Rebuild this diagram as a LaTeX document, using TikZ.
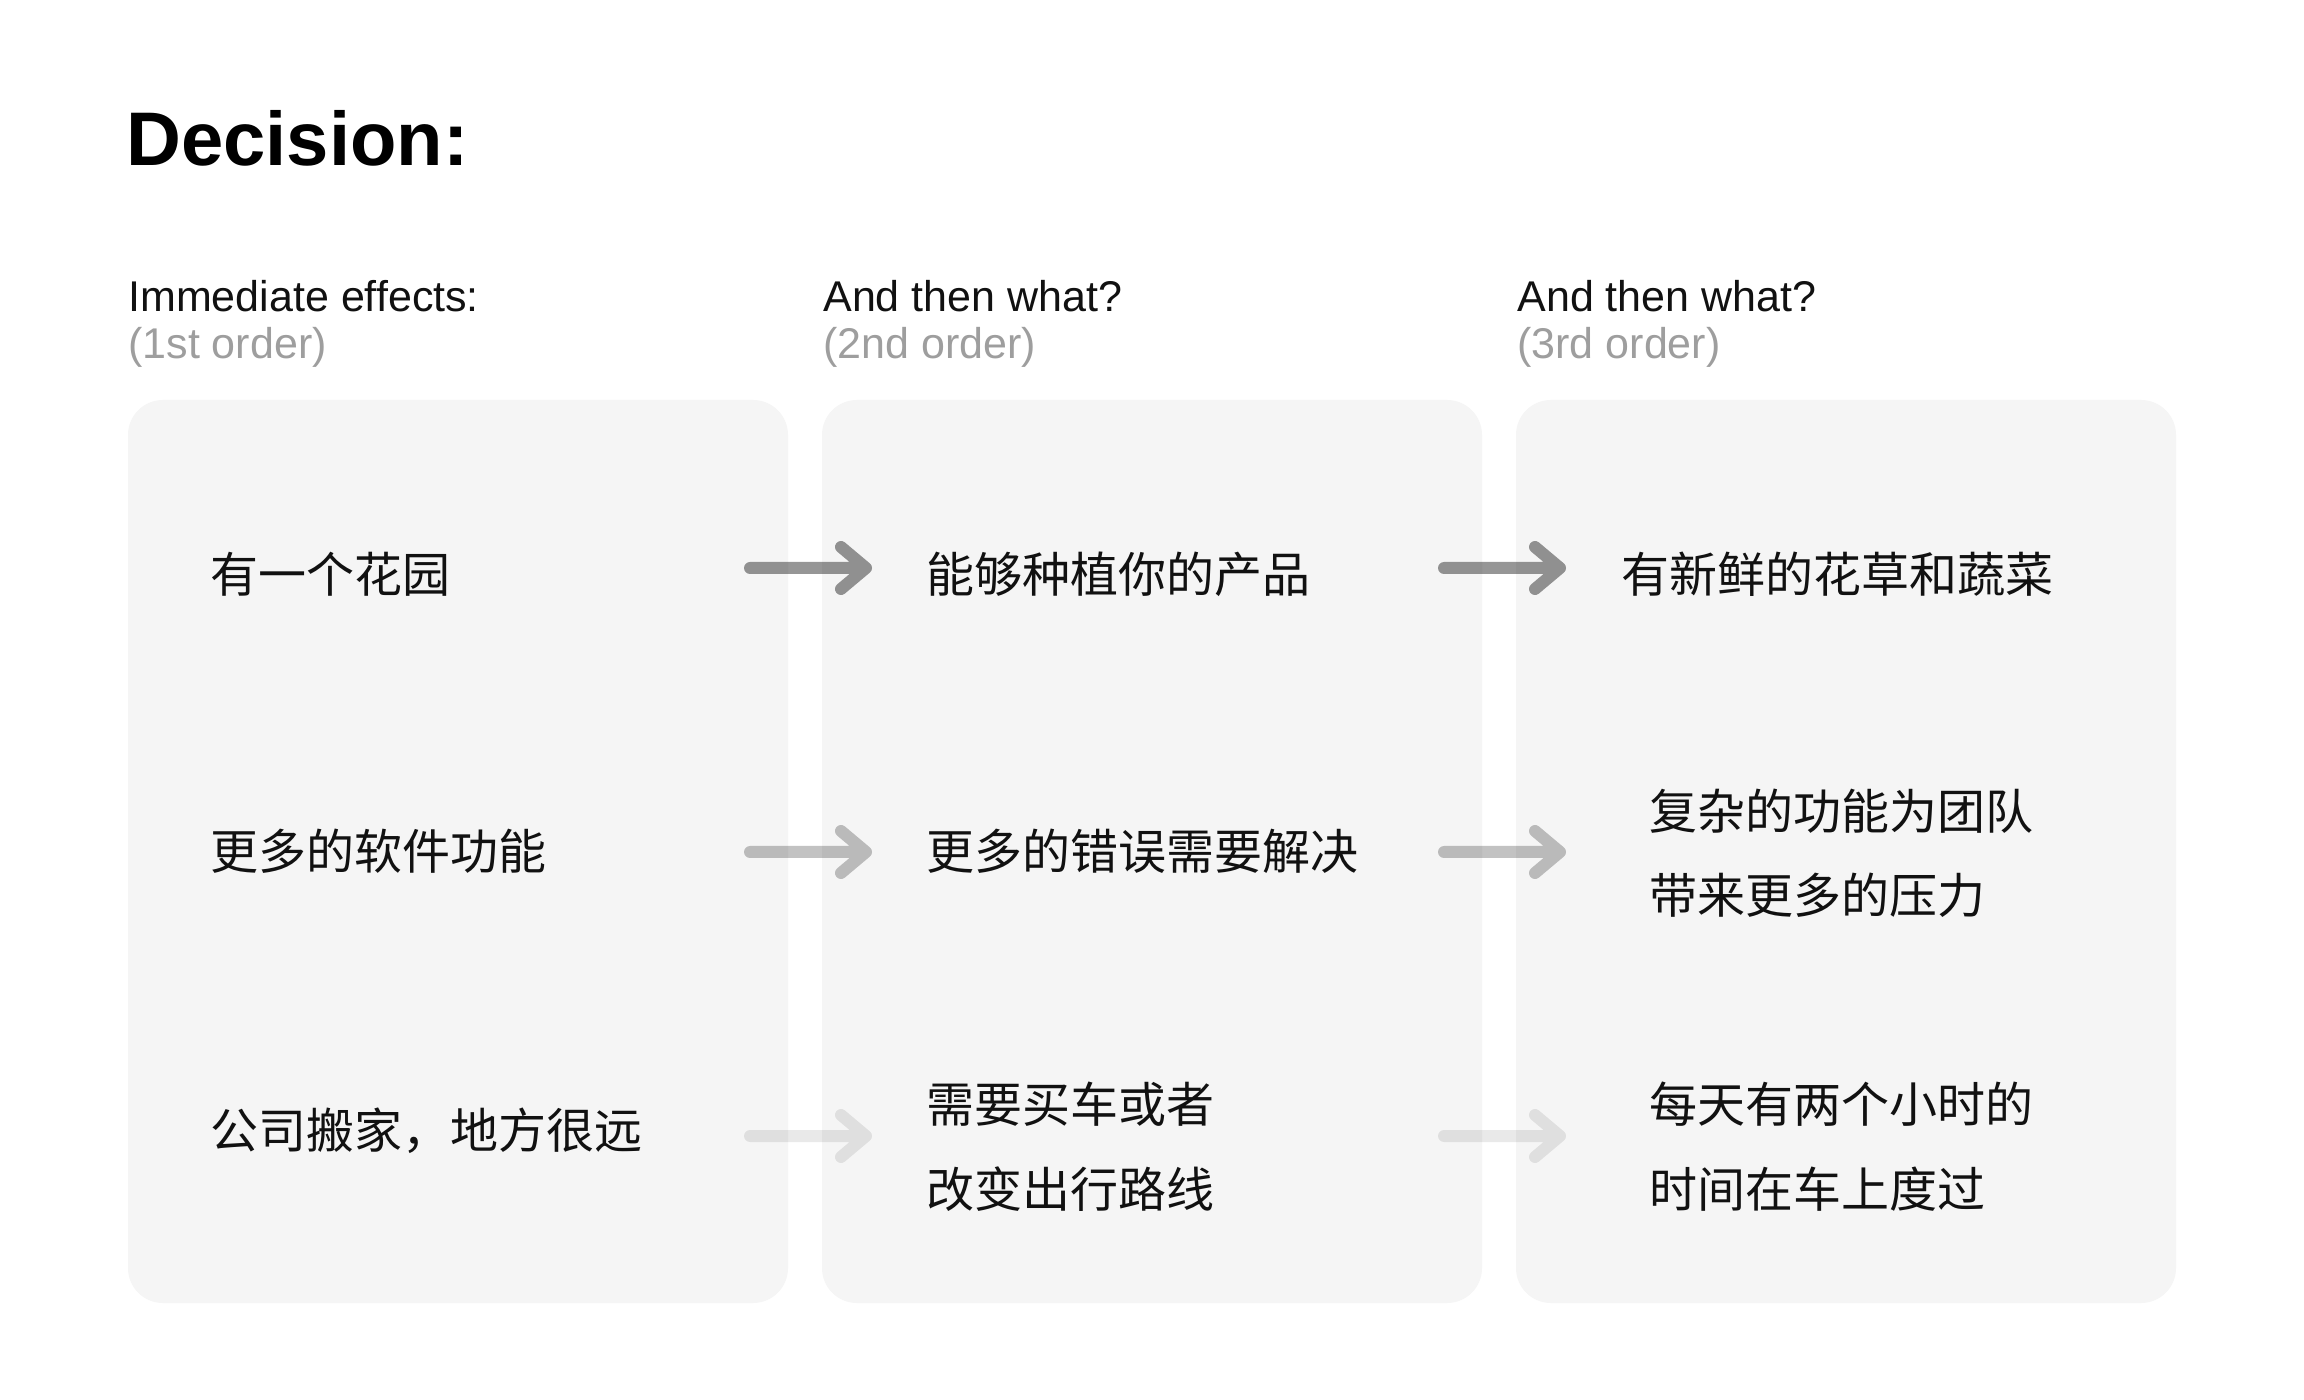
\documentclass[tikz,border=0pt]{standalone}
\usepackage{fontspec}
\setmainfont{Liberation Sans}
\newfontfamily\cjk{Noto Sans CJK SC}
\definecolor{boxbg}{HTML}{F5F5F5}
\definecolor{txt}{HTML}{111111}
\definecolor{subgray}{HTML}{9E9E9E}
\tikzset{
  panel/.style={fill=boxbg, draw=none, rounded corners=17.5pt},
  cn/.style={anchor=base west, inner sep=0pt, text=txt, font=\cjk\fontsize{24}{24}\selectfont},
  hdr/.style={anchor=base west, inner sep=0pt, text=txt, font=\fontsize{21.5}{21.5}\selectfont},
  hdrsub/.style={hdr, text=subgray},
  arr/.style={draw=black, line width=6pt, line cap=round, line join=round},
}
\begin{document}
\begin{tikzpicture}[x=0.5pt,y=-0.5pt]
\useasboundingbox (0,0) rectangle (2304,1400);
\fill[white] (0,0) rectangle (2304,1400);

% title
\node[anchor=base west, inner sep=0pt, font=\bfseries\fontsize{38}{38}\selectfont] (title) at (126,166) {Decision:};

% headers
\node[hdr] (h1) at (128,312) {Immediate effects:};
\node[hdrsub] (h1s) at (128,359) {(1st order)};
\node[hdr] (h2) at (823,312) {And then what?};
\node[hdrsub] (h2s) at (823,359) {(2nd order)};
\node[hdr] (h3) at (1517,312) {And then what?};
\node[hdrsub] (h3s) at (1517,359) {(3rd order)};

% panels
\path[panel] (128,400) rectangle (788,1303);
\path[panel] (822,400) rectangle (1482,1303);
\path[panel] (1516,400) rectangle (2176,1303);
\coordinate (p1) at (458,851);
\coordinate (p2) at (1152,851);
\coordinate (p3) at (1846,851);

% column 1
\node[cn] (t11) at (210,593) {有一个花园};
\node[cn] (t12) at (210,870) {更多的软件功能};
\node[cn] (t13) at (210,1148) {公司搬家，地方很远};

% column 2
\node[cn] (t21) at (926,593) {能够种植你的产品};
\node[cn] (t22) at (926,870) {更多的错误需要解决};
\node[cn] (t23a) at (926,1123) {需要买车或者};
\node[cn] (t23b) at (926,1207) {改变出行路线};

% column 3
\node[cn] (t31) at (1621,593) {有新鲜的花草和蔬菜};
\node[cn] (t32a) at (1649,830) {复杂的功能为团队};
\node[cn] (t32b) at (1649,914) {带来更多的压力};
\node[cn] (t33a) at (1649,1123) {每天有两个小时的};
\node[cn] (t33b) at (1649,1207) {时间在车上度过};

% arrow coordinates
\coordinate (a11) at (750,568);  \coordinate (b11) at (866,568);
\coordinate (a12) at (750,852);  \coordinate (b12) at (866,852);
\coordinate (a13) at (750,1136); \coordinate (b13) at (866,1136);
\coordinate (a21) at (1444,568);  \coordinate (b21) at (1560,568);
\coordinate (a22) at (1444,852);  \coordinate (b22) at (1560,852);
\coordinate (a23) at (1444,1136); \coordinate (b23) at (1560,1136);

% arrows
\draw[arr, draw opacity=0.41] (a11) -- (b11) ([shift={(-25,-21)}]b11) -- (b11) -- ([shift={(-25,21)}]b11);
\draw[arr, draw opacity=0.41] (a21) -- (b21) ([shift={(-25,-21)}]b21) -- (b21) -- ([shift={(-25,21)}]b21);
\draw[arr, draw opacity=0.24] (a12) -- (b12) ([shift={(-25,-21)}]b12) -- (b12) -- ([shift={(-25,21)}]b12);
\draw[arr, draw opacity=0.24] (a22) -- (b22) ([shift={(-25,-21)}]b22) -- (b22) -- ([shift={(-25,21)}]b22);
\draw[arr, draw opacity=0.085] (a13) -- (b13) ([shift={(-25,-21)}]b13) -- (b13) -- ([shift={(-25,21)}]b13);
\draw[arr, draw opacity=0.085] (a23) -- (b23) ([shift={(-25,-21)}]b23) -- (b23) -- ([shift={(-25,21)}]b23);
\end{tikzpicture}
\end{document}
